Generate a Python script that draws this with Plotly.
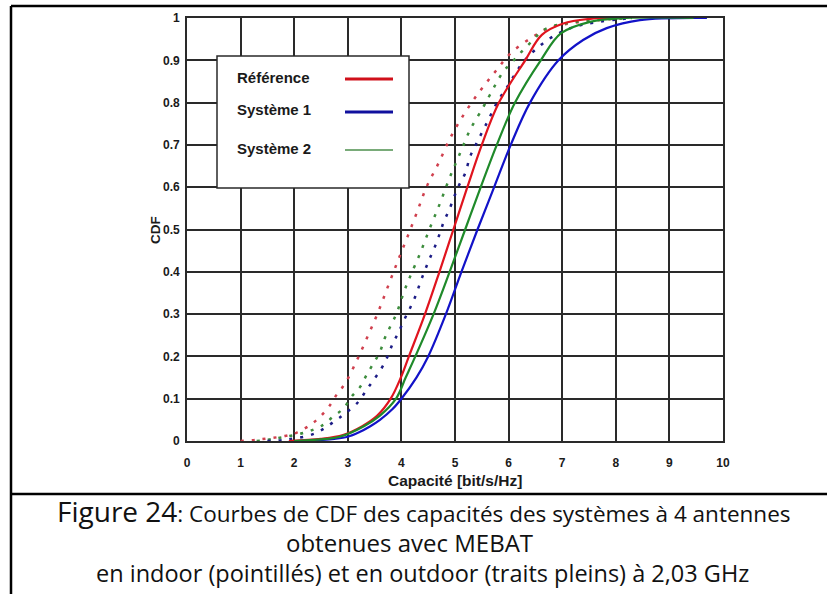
import plotly.graph_objects as go

# ---------------- data ----------------
# Outdoor (solid lines): capacity values [bit/s/Hz] at given CDF levels
ref_out_cdf = [0, 0.005, 0.014, 0.035, 0.06, 0.1, 0.15, 0.2, 0.3, 0.4, 0.5, 0.6, 0.7, 0.8, 0.9, 0.96, 0.987, 0.998, 1.0]
ref_out_cap = [1.9, 2.5, 2.91, 3.27, 3.55, 3.8, 3.99, 4.14, 4.44, 4.71, 4.97, 5.23, 5.50, 5.82, 6.31, 6.62, 7.02, 7.52, 7.9]

sys1_out_cdf = [0, 0.005, 0.01, 0.02, 0.035, 0.05, 0.075, 0.1, 0.15, 0.2, 0.3, 0.4, 0.5, 0.6, 0.7, 0.8, 0.9, 0.948,
                0.976, 0.995, 1.0]
sys1_out_cap = [2.2, 2.75, 3.0, 3.2, 3.42, 3.6, 3.83, 4.0, 4.28, 4.5, 4.83, 5.12, 5.42, 5.73, 6.04, 6.4, 6.93, 7.39,
                7.83, 8.45, 9.7]

sys2_out_cdf = [0, 0.005, 0.01, 0.035, 0.06, 0.1, 0.15, 0.2, 0.3, 0.4, 0.5, 0.6, 0.7, 0.8, 0.9, 0.964, 0.991, 1.0, 1.0]
sys2_out_cap = [2.0, 2.6, 2.85, 3.3, 3.6, 3.9, 4.08, 4.26, 4.6, 4.9, 5.19, 5.48, 5.78, 6.12, 6.6, 6.98, 7.52, 8.2, 9.45]

# Indoor (dotted lines)
ref_in_cdf = [0, 0.003, 0.012, 0.02, 0.038, 0.057, 0.085, 0.109, 0.136, 0.191, 0.25, 0.306, 0.369, 0.428, 0.485,
              0.544, 0.601, 0.656, 0.716, 0.771, 0.823, 0.873, 0.918, 0.956, 0.976, 0.99, 1.0]
ref_in_cap = [1.0, 1.3, 1.83, 2.05, 2.3, 2.48, 2.67, 2.79, 2.95, 3.17, 3.38, 3.57, 3.76, 3.94, 4.12,
              4.30, 4.47, 4.69, 4.91, 5.16, 5.44, 5.75, 6.05, 6.46, 6.75, 7.3, 8.2]

sys1_in_cdf = [0, 0.004, 0.018, 0.05, 0.065, 0.093, 0.121, 0.144, 0.172, 0.199, 0.231, 0.255, 0.286, 0.314, 0.345,
               0.374, 0.404, 0.432, 0.461, 0.492, 0.518, 0.546, 0.601, 0.633, 0.672, 0.696, 0.751, 0.806, 0.834,
               0.861, 0.9, 0.95, 0.98, 1.0]
sys1_in_cap = [1.5, 1.9, 2.39, 2.79, 2.95, 3.2, 3.35, 3.48, 3.63, 3.74, 3.84, 3.94, 4.05, 4.16, 4.27,
               4.35, 4.44, 4.53, 4.63, 4.72, 4.79, 4.89, 5.06, 5.19, 5.28, 5.37, 5.59, 5.81, 5.96,
               6.09, 6.3, 6.75, 7.25, 8.3]

sys2_in_cdf = [0, 0.005, 0.02, 0.038, 0.057, 0.077, 0.105, 0.128, 0.156, 0.184, 0.211, 0.243, 0.27, 0.302, 0.357,
               0.388, 0.444, 0.503, 0.562, 0.619, 0.676, 0.735, 0.79, 0.818, 0.873, 0.899, 0.92, 0.948, 0.972,
               0.99, 1.0]
sys2_in_cap = [1.3, 1.6, 2.2, 2.54, 2.72, 2.92, 3.07, 3.23, 3.35, 3.48, 3.60, 3.69, 3.79, 3.91, 4.06,
               4.16, 4.35, 4.53, 4.72, 4.89, 5.08, 5.28, 5.53, 5.65, 5.9, 6.09, 6.24, 6.46, 6.65,
               7.2, 8.3]

x_ticks = [0, 1, 2, 3, 4, 5, 6, 7, 8, 9, 10]
y_ticks = [0, 0.1, 0.2, 0.3, 0.4, 0.5, 0.6, 0.7, 0.8, 0.9, 1]
y_ticktext = ["0", "0.1", "0.2", "0.3", "0.4", "0.5", "0.6", "0.7", "0.8", "0.9", "1"]

legend_names = ["Référence", "Système 1", "Système 2"]
x_title = "Capacité [bit/s/Hz]"
y_title = "CDF"
caption_1a = "Figure 24"
caption_1b = ": Courbes de CDF des capacités des systèmes à 4 antennes"
caption_2 = "obtenues avec MEBAT"
caption_3 = "en indoor (pointillés) et en outdoor (traits pleins) à 2,03 GHz"

# ---------------- figure ----------------
W, H = 827, 594
L, R, T, B = 187, 104, 18, 153
pw, ph = W - L - R, H - T - B


def px(x):
    return (x - L) / pw


def py(y):
    return (H - B - y) / ph


RED, BLUE, GREEN = "#e0141e", "#1212c8", "#1f8a2a"
RED_D, BLUE_D, GREEN_D = "#d0404e", "#1c1c86", "#3d8d3d"

fig = go.Figure()
dot = "3px,8px"
for cap, cdf, col in [(ref_in_cap, ref_in_cdf, RED_D), (sys2_in_cap, sys2_in_cdf, GREEN_D),
                      (sys1_in_cap, sys1_in_cdf, BLUE_D)]:
    fig.add_trace(go.Scatter(x=cap, y=cdf, mode="lines", showlegend=False,
                             line=dict(color=col, width=2.5, dash=dot, shape="spline", smoothing=1.0)))
for cap, cdf, col, name in [(ref_out_cap, ref_out_cdf, RED, legend_names[0]),
                            (sys1_out_cap, sys1_out_cdf, BLUE, legend_names[1]),
                            (sys2_out_cap, sys2_out_cdf, GREEN, legend_names[2])]:
    fig.add_trace(go.Scatter(x=cap, y=cdf, mode="lines", name=name, showlegend=False,
                             line=dict(color=col, width=2.2, shape="spline", smoothing=1.0)))

axis_font = dict(family="Liberation Sans, Arial, sans-serif", size=12, color="#1a1a1a", weight="bold")
fig.update_xaxes(range=[0, 10], tickvals=x_ticks, showgrid=True, gridcolor="#2a2a2a", gridwidth=1.5,
                 showline=True, linecolor="#2a2a2a", linewidth=1.7, mirror=True, zeroline=False,
                 ticks="", tickfont=axis_font, ticklabelstandoff=10, fixedrange=True)
fig.update_yaxes(range=[0, 1], tickvals=y_ticks, ticktext=y_ticktext, showgrid=True, gridcolor="#2a2a2a",
                 gridwidth=1.5, showline=True, linecolor="#2a2a2a", linewidth=1.7, mirror=True,
                 zeroline=False, ticks="", tickfont=axis_font, ticklabelstandoff=3, fixedrange=True)

shapes = []
# legend box
shapes.append(dict(type="rect", xref="paper", yref="paper", x0=px(217), x1=px(409), y0=py(188), y1=py(56),
                   line=dict(color="#2a2a2a", width=1.5), fillcolor="white", layer="above"))
leg_y = [79, 112, 150]
leg_cols = [("#d0101a", 3), ("#10109e", 3), ("#4d8f4d", 1.5)]
annotations = []
for name, yy, (c, w) in zip(legend_names, leg_y, leg_cols):
    shapes.append(dict(type="line", xref="paper", yref="paper", x0=px(345), x1=px(393), y0=py(yy), y1=py(yy),
                       line=dict(color=c, width=w), layer="above"))
    annotations.append(dict(text=name, xref="paper", yref="paper", x=px(235), y=py(yy - 2), xanchor="left",
                            yanchor="middle", showarrow=False,
                            font=dict(family="Liberation Sans, Arial, sans-serif", size=15, color="#1a1a1a",
                                      weight="bold")))
# outer frame
frame_col = "#000000"
shapes.append(dict(type="line", xref="paper", yref="paper", x0=px(11), x1=px(840), y0=py(6), y1=py(6),
                   line=dict(color=frame_col, width=2.5)))
shapes.append(dict(type="line", xref="paper", yref="paper", x0=px(11), x1=px(11), y0=py(6), y1=py(600),
                   line=dict(color=frame_col, width=2.5)))
shapes.append(dict(type="line", xref="paper", yref="paper", x0=px(11), x1=px(840), y0=py(494), y1=py(494),
                   line=dict(color=frame_col, width=2.5)))

# axis titles
annotations.append(dict(text=y_title, xref="paper", yref="paper", x=px(155), y=py(230), textangle=-90,
                        xanchor="center", yanchor="middle", showarrow=False,
                        font=dict(family="Liberation Sans, Arial, sans-serif", size=13.5, color="#1a1a1a",
                                  weight="bold")))
annotations.append(dict(text=x_title, xref="paper", yref="paper", x=px(455), y=py(480),
                        xanchor="center", yanchor="middle", showarrow=False,
                        font=dict(family="Liberation Sans, Arial, sans-serif", size=15.5, color="#1a1a1a",
                                  weight="bold")))
# caption
cap_font = dict(family="Open Sans, Lato, sans-serif", size=22.5, color="#111111")
cap_font2 = dict(family="Open Sans, Lato, sans-serif", size=24, color="#111111")
annotations.append(dict(text=f"<span style='font-size:28px'>{caption_1a}</span>{caption_1b}", xref="paper",
                        yref="paper", x=px(424), y=py(511), xanchor="center", yanchor="middle",
                        showarrow=False, font=cap_font))
annotations.append(dict(text=caption_2, xref="paper", yref="paper", x=px(409), y=py(542), xanchor="center",
                        yanchor="middle", showarrow=False, font=cap_font2))
annotations.append(dict(text=caption_3, xref="paper", yref="paper", x=px(422), y=py(573), xanchor="center",
                        yanchor="middle", showarrow=False, font=dict(family="Open Sans, Lato, sans-serif",
                                                                      size=23.5, color="#111111")))

fig.update_layout(width=W, height=H, margin=dict(l=L, r=R, t=T, b=B, autoexpand=False),
                  paper_bgcolor="white", plot_bgcolor="white", shapes=shapes, annotations=annotations,
                  showlegend=False)

fig.write_html("out.html", config={"displayModeBar": False},
               post_script="document.body.style.margin='0px';document.body.style.overflow='hidden';")
